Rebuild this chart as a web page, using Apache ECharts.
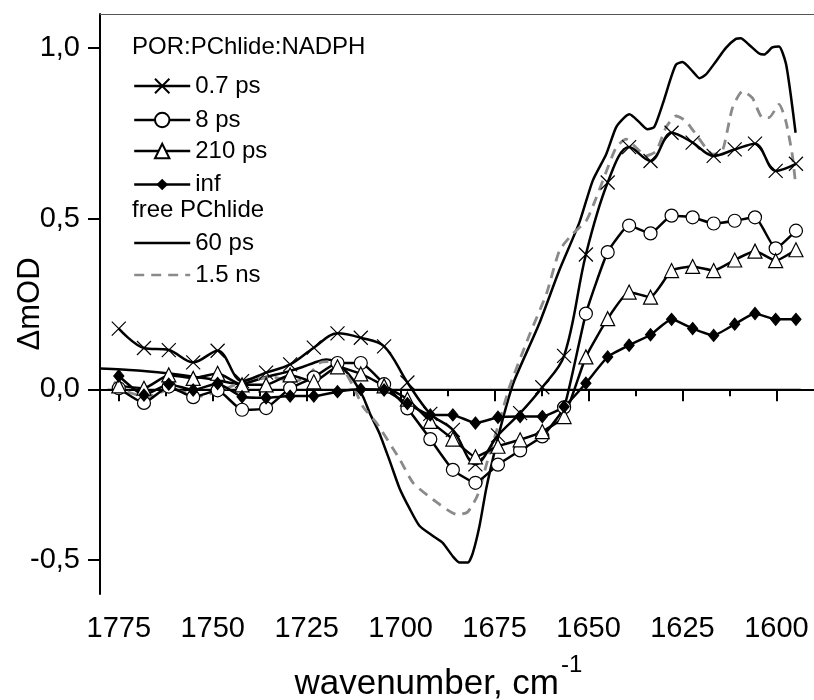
<!DOCTYPE html>
<html>
<head>
<meta charset="utf-8">
<script src="https://cdn.jsdelivr.net/npm/echarts@6/dist/echarts.min.js"></script>
<style>
  html, body { margin: 0; padding: 0; background: #fff; }
  #chart { width: 814px; height: 700px; }
</style>
</head>
<body>
<div id="chart"></div>
<script>
// probe wavenumbers (cm-1) of the POR:PChlide:NADPH spectra
var wn = [1775.0, 1768.3, 1761.7, 1755.2, 1748.7, 1742.2, 1735.8, 1729.4, 1723.1, 1716.8,
          1710.6, 1704.4, 1698.2, 1692.1, 1686.1, 1680.1, 1674.1, 1668.2, 1662.3, 1656.5,
          1650.7, 1644.9, 1639.2, 1633.5, 1627.9, 1622.3, 1616.7, 1611.1, 1605.7, 1600.2, 1594.8];
var ps07 = [0.178, 0.121, 0.115, 0.079, 0.113, 0.024, 0.049, 0.073, 0.122, 0.164,
            0.151, 0.126, 0.020, -0.072, -0.119, -0.220, -0.135, -0.070, 0.006, 0.098,
            0.395, 0.606, 0.710, 0.669, 0.752, 0.723, 0.684, 0.703, 0.720, 0.640, 0.661];
var ps8 = [0.003, -0.040, 0.008, -0.023, -0.003, -0.060, -0.055, 0.003, 0.035, 0.077,
           0.077, 0.015, -0.056, -0.146, -0.236, -0.274, -0.221, -0.179, -0.138, -0.053,
           0.222, 0.402, 0.480, 0.457, 0.509, 0.504, 0.486, 0.494, 0.504, 0.413, 0.465];
var ps210 = [0.010, 0.003, 0.042, 0.032, 0.047, 0.013, 0.013, 0.042, 0.022, 0.066,
             0.045, 0.010, -0.029, -0.094, -0.146, -0.198, -0.167, -0.148, -0.124, -0.080,
             0.095, 0.207, 0.285, 0.270, 0.348, 0.360, 0.348, 0.379, 0.405, 0.377, 0.409];
var inf = [0.039, -0.017, 0.015, -0.002, 0.017, -0.022, -0.025, -0.020, -0.020, -0.007,
           0.000, -0.002, -0.042, -0.075, -0.075, -0.099, -0.082, -0.080, -0.080, -0.051,
           0.018, 0.095, 0.129, 0.160, 0.205, 0.178, 0.158, 0.191, 0.222, 0.205, 0.205];

// free PChlide, 60 ps
var wn60 = [1780, 1771, 1762.2, 1755.1, 1748.9, 1742.7, 1735.6, 1730.3, 1725.9, 1722.5,
            1719.8, 1717.9, 1715.3, 1712.6, 1710.0, 1708.2, 1705.6, 1702.9, 1700.3, 1697.6,
            1695.0, 1691.4, 1688.8, 1686.1, 1684.3, 1682.1, 1680.8, 1679.0, 1677.2, 1674.5,
            1671.9, 1669.7, 1663.1, 1657.8, 1652.4, 1648.9, 1645.3, 1642.7, 1640.5, 1639.1,
            1636.5, 1634.3, 1632.5, 1630.3, 1628.1, 1626.7, 1625.0, 1622.3, 1620.5, 1618.8,
            1616.1, 1613.5, 1610.8, 1609.5, 1607.3, 1604.6, 1603.3, 1601.1, 1599.3, 1597.5,
            1596.2, 1594.9];
var od60 = [0.061, 0.056, 0.047, 0.037, 0.027, 0.015, 0.037, 0.051, 0.066, 0.080,
            0.087, 0.083, 0.061, 0.027, -0.022, -0.070, -0.130, -0.210, -0.290, -0.350,
            -0.400, -0.430, -0.450, -0.490, -0.508, -0.508, -0.480, -0.400, -0.290, -0.160,
            -0.050, 0.027, 0.193, 0.348, 0.490, 0.611, 0.689, 0.767, 0.796, 0.806,
            0.783, 0.762, 0.769, 0.835, 0.912, 0.952, 0.959, 0.932, 0.912, 0.922,
            0.961, 1.000, 1.027, 1.029, 1.010, 0.984, 0.981, 1.002, 1.005, 0.956,
            0.864, 0.752];

// free PChlide, 1.5 ns
var wn15 = [1776.3, 1772.7, 1767.4, 1761.2, 1753.2, 1747.0, 1740.9, 1733.8, 1728.5, 1725.0,
            1721.4, 1718.8, 1715.7, 1712.6, 1710.0, 1706.4, 1700.2, 1696.7, 1691.4, 1684.9,
            1682.2, 1679.5, 1676.8, 1673.6, 1671.0, 1665.7, 1661.2, 1657.7, 1654.2, 1650.6,
            1648.0, 1646.2, 1642.7, 1640.0, 1637.3, 1634.7, 1632.0, 1629.4, 1626.7, 1624.1,
            1621.4, 1618.8, 1617.0, 1614.4, 1611.7, 1609.0, 1606.4, 1603.7, 1602.0, 1599.3,
            1597.5, 1595.8, 1594.9];
var od15 = [0.022, -0.007, -0.022, 0.000, -0.020, 0.000, 0.027, 0.035, 0.022, 0.037,
            0.078, 0.081, 0.066, 0.008, -0.051, -0.099, -0.206, -0.274, -0.323, -0.367,
            -0.360, -0.310, -0.206, -0.090, 0.008, 0.160, 0.280, 0.407, 0.456, 0.494,
            0.560, 0.611, 0.708, 0.733, 0.708, 0.684, 0.698, 0.767, 0.801, 0.786,
            0.747, 0.708, 0.689, 0.698, 0.825, 0.874, 0.854, 0.796, 0.796, 0.835,
            0.786, 0.689, 0.601];

var zeroLine = [[1778, 0], [1593.5, 0]];

var xTicks = [1775, 1750, 1725, 1700, 1675, 1650, 1625, 1600];
var xMinorTicks = [1762.5, 1737.5, 1712.5, 1687.5, 1662.5, 1637.5, 1612.5];
var yTicks = [-0.5, 0, 0.5, 1.0];
var yMinorTicks = [-0.25, 0.25, 0.75];

var font = 'Liberation Sans, Arial, sans-serif';
var cross = 'path://M0,0L10,10M0,10L10,0';

function pairs(xs, ys) {
    return xs.map(function (x, i) { return [x, ys[i]]; });
}

function markerSeries(name, ys, symbol, size, fill, smooth) {
    return {
        name: name,
        type: 'line',
        data: pairs(wn, ys),
        smooth: smooth,
        symbol: symbol,
        symbolSize: size,
        showAllSymbol: true,
        lineStyle: {color: '#000', width: 2.5},
        itemStyle: {color: fill, borderColor: '#000', borderWidth: 1.2},
        emphasis: {disabled: true},
        z: 3
    };
}

function legendAt(name, centerY, itemHeight) {
    return {
        data: [name],
        left: 133,
        top: centerY - itemHeight / 2,
        padding: 0,
        itemGap: 0,
        itemWidth: 56,
        itemHeight: itemHeight,
        selectedMode: false,
        lineStyle: {width: 2.4},
        textStyle: {fontSize: 24, fontFamily: font, color: '#000'}
    };
}

var myChart = echarts.init(document.getElementById('chart'));
var option = {
    animation: false,
    backgroundColor: '#fff',
    grid: {left: 100, right: 0, top: 14, bottom: 106, containLabel: false, outerBoundsMode: 'none'},
    legend: [
        legendAt('0.7 ps', 83, 18),
        legendAt('8 ps', 117, 18),
        legendAt('210 ps', 148, 18),
        legendAt('inf', 178, 11),
        legendAt('60 ps', 240, 18),
        legendAt('1.5 ns', 272, 18)
    ],
    graphic: [
        {type: 'text', x: 132, y: 47, style: {text: 'POR:PChlide:NADPH', fontSize: 24, fontFamily: font, fill: '#000',
            align: 'left', verticalAlign: 'middle', textAlign: 'left', textVerticalAlign: 'middle'}},
        {type: 'text', x: 132, y: 210, style: {text: 'free PChlide', fontSize: 24, fontFamily: font, fill: '#000',
            align: 'left', verticalAlign: 'middle', textAlign: 'left', textVerticalAlign: 'middle'}},
        {type: 'text', x: 559, y: 684, style: {text: 'wavenumber, cm', fontSize: 35, fontFamily: font, fill: '#000',
            align: 'right', verticalAlign: 'middle', textAlign: 'right', textVerticalAlign: 'middle'}},
        {type: 'text', x: 561, y: 665, style: {text: '-1', fontSize: 24, fontFamily: font, fill: '#000',
            align: 'left', verticalAlign: 'middle', textAlign: 'left', textVerticalAlign: 'middle'}}
    ],
    xAxis: [
        {
            type: 'value', inverse: true, min: 1590, max: 1780, position: 'bottom',
            axisLine: {lineStyle: {color: '#000', width: 2}},
            axisTick: {customValues: xTicks, inside: false, length: 12, lineStyle: {color: '#000', width: 2}},
            axisLabel: {
                customValues: xTicks, margin: 20, fontSize: 29, fontFamily: font, color: '#000',
                formatter: function (v) { return String(v); }
            },
            splitLine: {show: false}
        },
        {
            type: 'value', inverse: true, min: 1590, max: 1780, position: 'bottom',
            axisLine: {show: false},
            axisTick: {customValues: xMinorTicks, inside: false, length: 7, lineStyle: {color: '#000', width: 2}},
            axisLabel: {show: false},
            splitLine: {show: false}
        },
        {
            type: 'value', inverse: true, min: 1590, max: 1780, position: 'top',
            axisLine: {lineStyle: {color: '#555', width: 1.2}},
            axisTick: {show: false},
            axisLabel: {show: false},
            splitLine: {show: false}
        }
    ],
    yAxis: [
        {
            type: 'value', min: -0.6, max: 1.1,
            name: '\u0394mOD', nameLocation: 'middle', nameGap: 54, nameRotate: 90, nameMoveOverlap: false,
            nameTextStyle: {fontSize: 31, fontFamily: font, color: '#000'},
            axisLine: {lineStyle: {color: '#000', width: 2}},
            axisTick: {customValues: yTicks, inside: false, length: 12, lineStyle: {color: '#000', width: 2}},
            axisLabel: {
                customValues: yTicks, margin: 20, fontSize: 29, fontFamily: font, color: '#000',
                formatter: function (v) { return v.toFixed(1).replace('.', ','); }
            },
            splitLine: {show: false}
        },
        {
            type: 'value', min: -0.6, max: 1.1,
            axisLine: {show: false},
            axisTick: {customValues: yMinorTicks, inside: false, length: 7, lineStyle: {color: '#000', width: 2}},
            axisLabel: {show: false},
            splitLine: {show: false}
        }
    ],
    series: [
        {
            name: 'zero', type: 'line', data: zeroLine, symbol: 'none',
            lineStyle: {color: '#000', width: 1.3}, emphasis: {disabled: true}, z: 1
        },
        {
            name: '60 ps', type: 'line', data: pairs(wn60, od60), smooth: 0.2, symbol: 'none',
            lineStyle: {color: '#000', width: 2.5}, itemStyle: {color: 'rgba(0,0,0,0)'},
            emphasis: {disabled: true}, z: 2
        },
        {
            name: '1.5 ns', type: 'line', data: pairs(wn15, od15), smooth: 0.2, symbol: 'none',
            lineStyle: {color: '#8a8a8a', width: 2.8, type: [10, 7]}, itemStyle: {color: 'rgba(0,0,0,0)'},
            emphasis: {disabled: true}, z: 2
        },
        markerSeries('0.7 ps', ps07, cross, 14, '#000', 0.35),
        markerSeries('8 ps', ps8, 'circle', 13, '#fff', 0.15),
        markerSeries('210 ps', ps210, 'triangle', 14, '#fff', 0.15),
        markerSeries('inf', inf, 'diamond', [10, 12], '#000', 0.15)
    ]
};
myChart.setOption(option);
</script>
</body>
</html>
